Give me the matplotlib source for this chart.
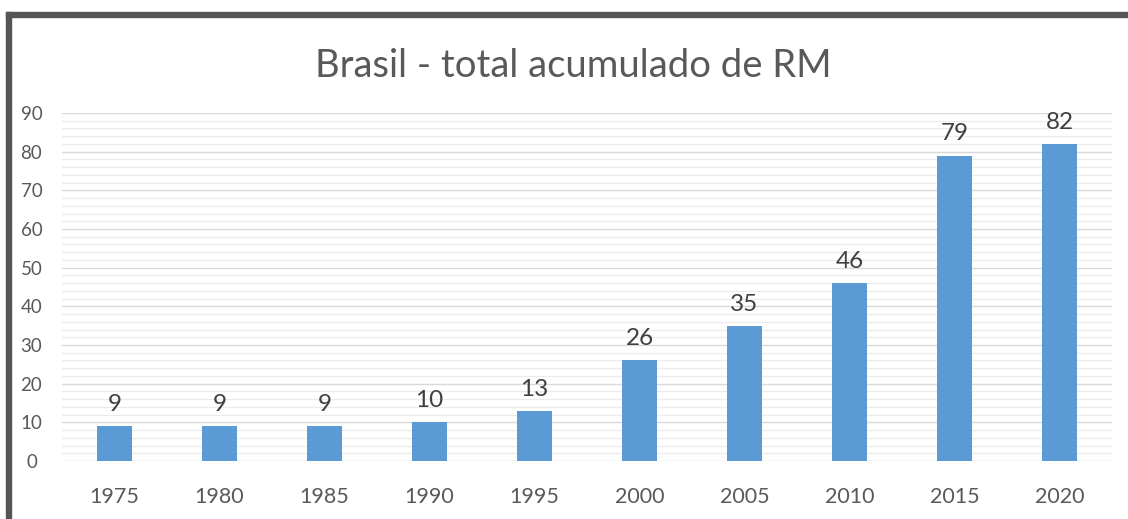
import matplotlib
matplotlib.use("Agg")
import matplotlib.pyplot as plt
from matplotlib.patches import Rectangle
from matplotlib.ticker import MultipleLocator

years = ["1975", "1980", "1985", "1990", "1995", "2000", "2005", "2010", "2015", "2020"]
values = [9, 9, 9, 10, 13, 26, 35, 46, 79, 82]
title = "Brasil - total acumulado de RM"

plt.rcParams['font.family'] = ['Lato', 'DejaVu Sans']
txt = "#595959"

fig = plt.figure(figsize=(11.28, 5.19), dpi=100)
W, H = 1128, 519
ax = fig.add_axes([62 / W, 1 - 461 / H, (1112 - 62) / W, (461 - 113) / H])

x = list(range(len(years)))
bars = ax.bar(x, values, width=0.33, color="#5B9BD5", zorder=3)
ax.set_xlim(-0.5, len(years) - 0.5)
ax.set_ylim(0, 90)
ax.yaxis.set_major_locator(MultipleLocator(10))
ax.yaxis.set_minor_locator(MultipleLocator(2))
ax.grid(axis="y", which="major", color="#D9D9D9", linewidth=1.0, zorder=0)
ax.grid(axis="y", which="minor", color="#EBEBEB", linewidth=0.9, zorder=0)
ax.set_xticks(x)
ax.set_xticklabels(years)
for s in ax.spines.values():
    s.set_visible(False)
ax.tick_params(axis="both", which="both", length=0, colors=txt, labelsize=13.5)
ax.tick_params(axis="x", pad=19)
ax.tick_params(axis="y", pad=22)
for lbl in ax.get_yticklabels():
    lbl.set_horizontalalignment("center")
for lbl in ax.get_xticklabels():
    lbl.set_fontsize(15.5)

for b, v in zip(bars, values):
    ax.annotate(str(v), (b.get_x() + b.get_width() / 2, v), xytext=(0, 8),
                textcoords="offset points", ha="center", va="bottom",
                fontsize=17.5, color="#404040")

fig.text(573 / W, 1 - 66 / H, title, ha="center", va="center", fontsize=27.5, color=txt)

# outer frame (dark gray) on top and left
fig.patches.append(Rectangle((6 / W, 1 - 17 / H), 1 - 6 / W, 5 / H, transform=fig.transFigure,
                             color="#555555", zorder=10))
fig.patches.append(Rectangle((6 / W, 0), 5 / W, 1 - 12 / H, transform=fig.transFigure,
                             color="#555555", zorder=10))

fig.savefig("out.png", dpi=100)
